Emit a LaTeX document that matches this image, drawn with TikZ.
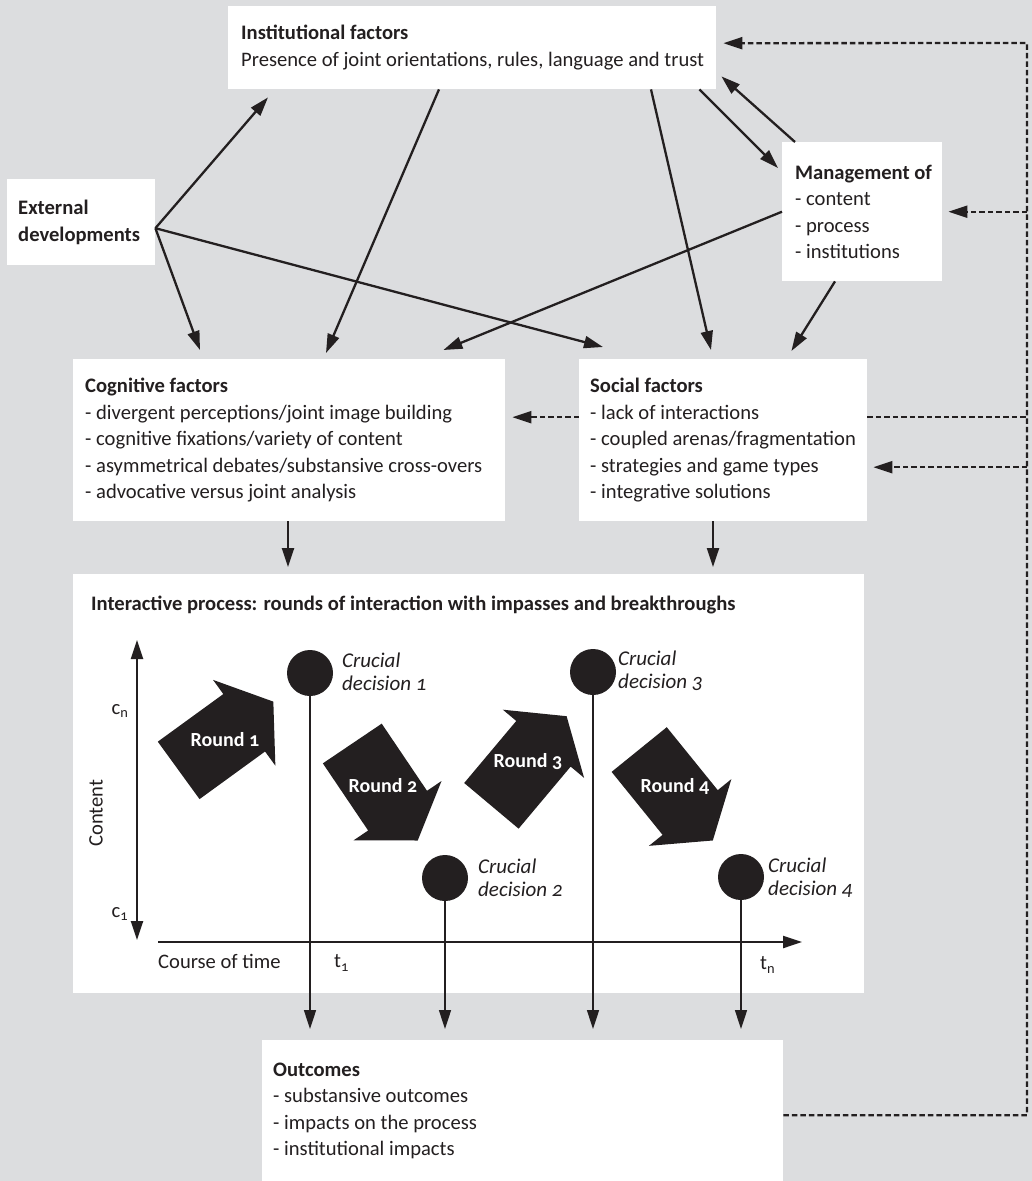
\documentclass[tikz,border=0pt]{standalone}
\usepackage{fontspec}
\setmainfont{Carlito}[Numbers=OldStyle]
\usetikzlibrary{arrows.meta,calc}
\definecolor{bg}{RGB}{220,221,223}
\definecolor{ink}{RGB}{35,31,32}
\tikzset{
 boxs/.style 2 args={fill=white, draw=none, anchor=north west, inner sep=0pt, minimum width=#1, minimum height=#2},
 txt/.style={anchor=west, align=left, inner sep=0pt, text=ink},
 conn/.style={draw=ink, line width=2.3pt, -{Triangle[length=19pt,width=12pt]}},
 dashline/.style={draw=ink, line width=2.3pt, dash pattern=on 5.5pt off 3pt},
 dtip/.style={-{Triangle[length=19pt,width=12pt]}},
 disc/.style={circle, fill=ink, minimum size=46pt, inner sep=0pt},
 rlabel/.style={text=white, inner sep=0pt, font=\fontsize{20}{24}\selectfont\bfseries},
 crucial/.style={anchor=west, align=left, inner sep=0pt, text=ink, font=\fontsize{21}{23}\selectfont\itshape},
 bigarrow/.pic={\fill[ink] (-58.5,-35.5) -- (22.5,-35.5) -- (22.5,-53) -- (58.5,0) -- (22.5,53) -- (22.5,35.5) -- (-58.5,35.5) -- cycle;}
}
\begin{document}
\begin{tikzpicture}[x=1pt,y=-1pt,font=\fontsize{20.6}{26.5}\selectfont]
\fill[bg] (0,0) rectangle (1032,1181);
\useasboundingbox (0,0) rectangle (1032,1181);

% boxes
\node[boxs={488pt}{83pt}] (inst) at (228,6) {};
\node[txt] (instT) at ([xshift=13pt]inst.west) {\textbf{Institutional factors}\\Presence of joint orientations, rules, language and trust};

\node[boxs={148pt}{86pt}] (ext) at (7,179) {};
\node[txt] (extT) at ([xshift=11pt]ext.west) {\textbf{External}\\\textbf{developments}};

\node[boxs={160pt}{139pt}] (mgmt) at (782,142) {};
\node[txt] (mgmtT) at ([xshift=13pt]mgmt.west) {\textbf{Management of}\\- content\\- process\\- institutions};

\node[boxs={432pt}{162pt}] (cog) at (73,359) {};
\node[txt] (cogT) at ([xshift=12pt]cog.west) {\textbf{Cognitive factors}\\- divergent perceptions/joint image building\\- cognitive fixations/variety of content\\- asymmetrical debates/substansive cross-overs\\- advocative versus joint analysis};

\node[boxs={288pt}{162pt}] (soc) at (579,359) {};
\node[txt] (socT) at ([xshift=11pt]soc.west) {\textbf{Social factors}\\- lack of interactions\\- coupled arenas/fragmentation\\- strategies and game types\\- integrative solutions};

\node[boxs={791pt}{419pt}] (int) at (73,574) {};
\node[txt] (intT) at (91,605) {\textbf{Interactive process: rounds of interaction with impasses and breakthroughs}};

\node[boxs={521pt}{141pt}] (out) at (262,1040) {};
\node[txt] (outT) at ([xshift=11pt]out.west) {\textbf{Outcomes}\\- substansive outcomes\\- impacts on the process\\- institutional impacts};

% solid connectors
\draw[conn] ([yshift=-6pt]ext.east) -- ([xshift=40pt,yshift=-8pt]inst.south west);
\draw[conn] ([yshift=-6pt]ext.east) -- ([xshift=127pt,yshift=9pt]cog.north west);
\draw[conn] ([yshift=-6pt]ext.east) -- ([xshift=24pt,yshift=12pt]soc.north west);
\draw[conn] ([xshift=211pt]inst.south west) -- ([xshift=253pt,yshift=6pt]cog.north west);
\draw[conn] ([xshift=423pt]inst.south west) -- ([xshift=132pt,yshift=9pt]soc.north west);
\draw[conn] ([xshift=-17pt]inst.south east) -- ([xshift=-4pt,yshift=-26pt]mgmt.north west);
\draw[conn] ([xshift=13pt]mgmt.north west) -- ([xshift=5pt,yshift=13pt]inst.south east);
\draw[conn] (mgmt.west) -- ([xshift=-62pt,yshift=9pt]cog.north east);
\draw[conn] ([xshift=53pt]mgmt.south west) -- ([xshift=-76pt,yshift=8pt]soc.north east);
\draw[conn] ([xshift=215pt]cog.south west) -- ([xshift=215pt,yshift=7pt]int.north west);
\draw[conn] ([xshift=134pt]soc.south west) -- ([xshift=640pt,yshift=7pt]int.north west);

% dashed feedback
\coordinate (rail) at (1027,43);
\coordinate (b1) at ([yshift=23pt]soc.east);
\coordinate (b2) at ([xshift=6pt,yshift=-27pt]soc.east);
\draw[dashline,dtip] ([yshift=-4.5pt]out.east) -| (rail) -- ([xshift=7pt,yshift=4.5pt]inst.east);
\draw[dashline,dtip] (rail |- mgmt.east) -- ([xshift=6pt]mgmt.east);
\draw[dashline] (b1) -- (rail |- b1);
\draw[dashline,dtip] (rail |- b2) -- (b2);
\draw[dashline,dtip] ([yshift=23pt]soc.west) -- ([xshift=7pt,yshift=23pt]cog.east);

% axes
\coordinate (ytop) at (137,640);
\coordinate (ybot) at (137,940);
\coordinate (xl) at (158,942);
\coordinate (xr) at (802,942);
\draw[draw=ink, line width=2.3pt, {Triangle[length=19pt,width=12pt]}-{Triangle[length=19pt,width=12pt]}] (ytop) -- (ybot);
\draw[conn] (xl) -- (xr);
\node[txt, anchor=center] (cn) at (120,711) {c\textsubscript{n}};
\node[txt, anchor=center] (c1) at (120,914) {c\textsubscript{1}};
\node[txt, anchor=center, rotate=90] (contlab) at (96,813) {Content};
\node[txt] (timelab) at (158,961) {Course of time};
\node[txt] (t1) at (334,963) {t\textsubscript{1}};
\node[txt] (tn) at (760,965) {t\textsubscript{n}};

% round arrows
\pic[rotate=36] at (226,736) {bigarrow};
\pic[rotate=-56] at (385,792) {bigarrow};
\pic[rotate=50] at (529,761) {bigarrow};
\pic[rotate=-51] at (676,795) {bigarrow};
\node[rlabel] (r1) at (225,740) {Round 1};
\node[rlabel] (r2) at (383,786) {Round 2};
\node[rlabel] (r3) at (528,762) {Round 3};
\node[rlabel] (r4) at (675,786) {Round 4};

% decisions
\node[disc] (d1) at (310,673) {};
\node[disc] (d2) at (445,878) {};
\node[disc] (d3) at (593,672) {};
\node[disc] (d4) at (741,877) {};
\node[crucial] (l1) at (342,672) {Crucial\\decision 1};
\node[crucial] (l2) at (478,878) {Crucial\\decision 2};
\node[crucial] (l3) at (618,671) {Crucial\\decision 3};
\node[crucial] (l4) at (768,878) {Crucial\\decision 4};
\foreach \d in {d1,d2,d3,d4}
  \draw[conn, line width=1.6pt, shorten >=11pt] (\d.south) -- (\d.south |- out.north);
\end{tikzpicture}
\end{document}
